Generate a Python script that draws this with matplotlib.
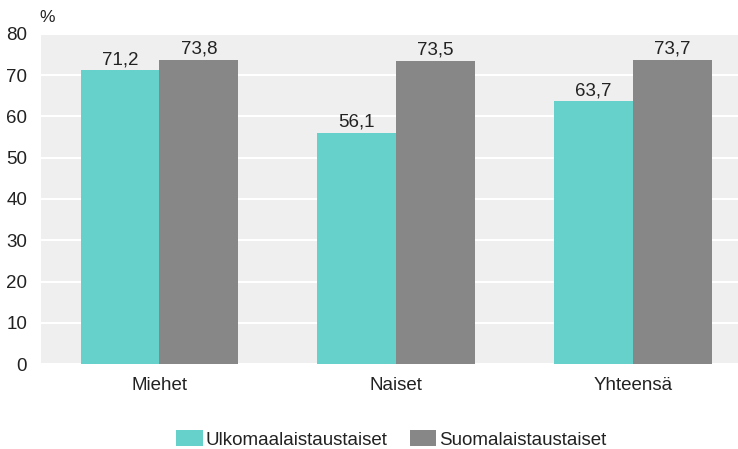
import matplotlib
matplotlib.use("Agg")
import matplotlib.pyplot as plt
import numpy as np

plt.rcParams['font.family'] = ['Liberation Sans', 'DejaVu Sans']

categories = ["Miehet", "Naiset", "Yhteensä"]
series_names = ["Ulkomaalaistaustaiset", "Suomalaistaustaiset"]
ulko = [71.2, 56.1, 63.7]
suomi = [73.8, 73.5, 73.7]
yticks = [0, 10, 20, 30, 40, 50, 60, 70, 80]

colors = ["#66d0cb", "#878787"]
edge = ["#7fd6d2", "#9a9a9a"]

fig = plt.figure(figsize=(7.38, 4.49), dpi=100)
ax = fig.add_axes([0.0556, 0.1893, 0.9444, 0.735])
ax.set_facecolor("#efefef")

x = np.arange(len(categories))
w = 0.333
b1 = ax.bar(x - w/2, ulko, w, color=colors[0], label=series_names[0], zorder=3)
b2 = ax.bar(x + w/2, suomi, w, color=colors[1], label=series_names[1], zorder=3)

for bars, vals in ((b1, ulko), (b2, suomi)):
    for r, v in zip(bars, vals):
        ax.text(r.get_x() + r.get_width()/2, v + 0.5, f"{v:.1f}".replace(".", ","),
                ha="center", va="bottom", fontsize=13.5, color="#222222", zorder=4)

ax.set_ylim(0, 80)
ax.set_xlim(-0.5, 2.443)
ax.set_yticks(yticks)
ax.set_yticklabels([str(t) for t in yticks])
ax.set_xticks(x)
ax.set_xticklabels(categories)
ax.yaxis.grid(True, color="white", linewidth=1.5, zorder=0)
ax.set_axisbelow(True)
for s in ax.spines.values():
    s.set_visible(False)
ax.tick_params(axis="both", length=0, labelsize=13.5, colors="#222222")
ax.tick_params(axis="y", pad=10)
ax.tick_params(axis="x", pad=9)

fig.text(0.054, 0.962, "%", fontsize=12.5, color="#222222", ha="left", va="center")

leg = fig.legend(loc="center", bbox_to_anchor=(0.53, 0.022), ncol=2, frameon=False,
                 fontsize=13.5, handlelength=1.4, handleheight=1.0, handletextpad=0.15,
                 columnspacing=1.2)
for t in leg.get_texts():
    t.set_color("#222222")

fig.savefig("out.png", dpi=100)
